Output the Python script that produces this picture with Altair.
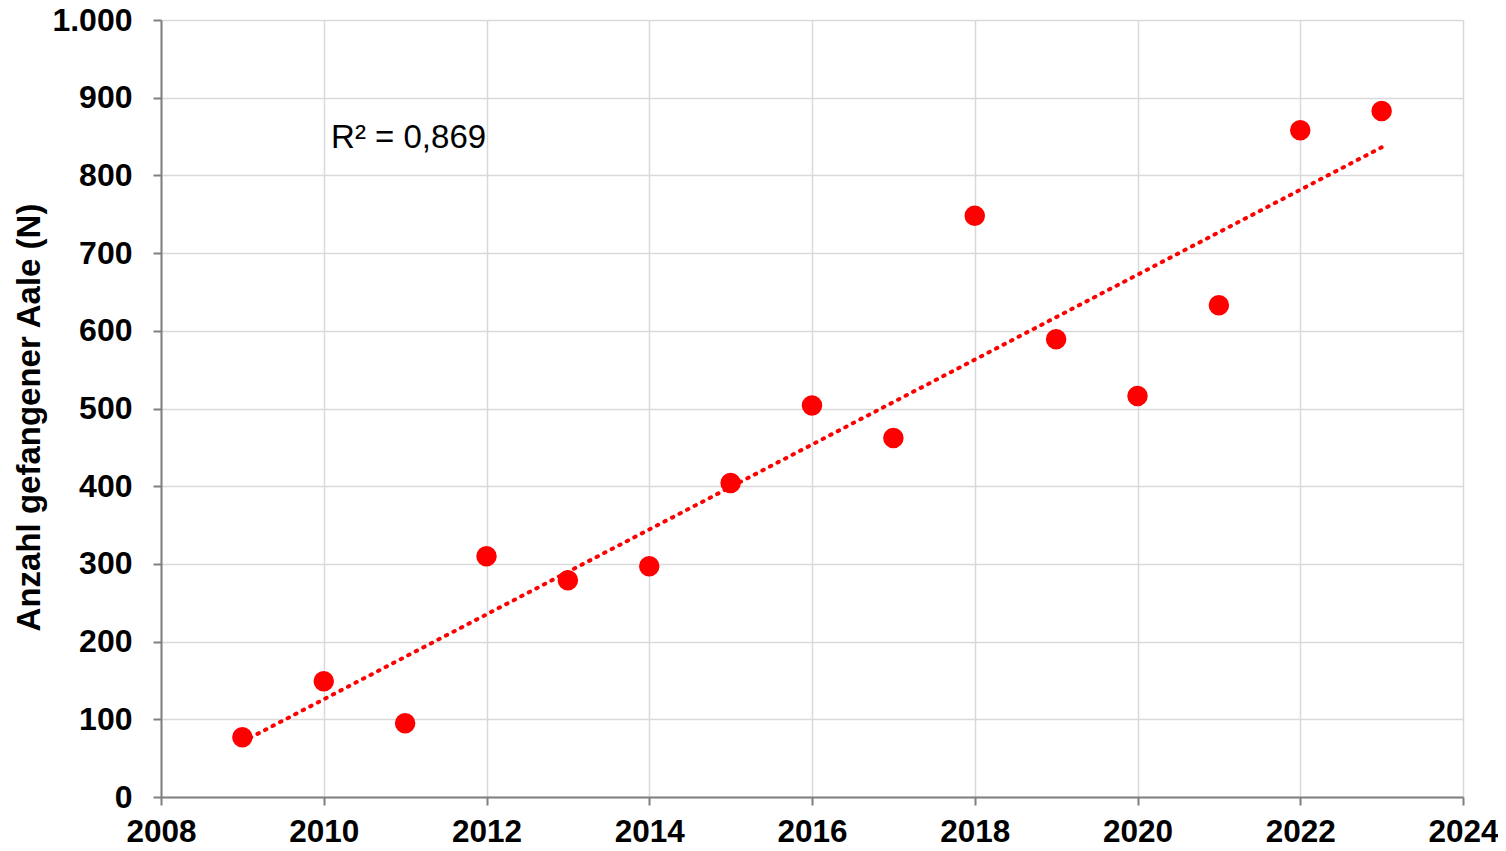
import altair as alt
import pandas as pd

years = [2009, 2010, 2011, 2012, 2013, 2014, 2015, 2016, 2017, 2018, 2019, 2020, 2021, 2022, 2023]
counts = [77, 149, 95, 310, 279, 297, 404, 504, 462, 748, 589, 516, 633, 858, 883]
x_ticks = [2008, 2010, 2012, 2014, 2016, 2018, 2020, 2022, 2024]
y_ticks = [0, 100, 200, 300, 400, 500, 600, 700, 800, 900, 1000]
annotation_text = ["R² = 0,869"]
annotation_year = [2010.09]
annotation_value = [835]

df = pd.DataFrame({"year": years, "n": counts})
ann = pd.DataFrame({"year": annotation_year, "n": annotation_value, "label": annotation_text})

FONT = "Liberation Sans"

x_enc = alt.X(
    "year:Q",
    scale=alt.Scale(domain=[2008, 2024], nice=False, zero=False),
    axis=alt.Axis(
        values=x_ticks, format="d", title=None,
        labelFont=FONT, labelFontSize=31.5, labelFontWeight="bold", labelColor="black",
        labelPadding=11, tickSize=8, tickColor="#7f7f7f", tickWidth=2,
        domainColor="#7f7f7f", domainWidth=2,
        gridColor="#d9d9d9", gridWidth=1.5, labelFlush=False, labelOverlap=False,
    ),
)
y_enc = alt.Y(
    "n:Q",
    scale=alt.Scale(domain=[0, 1000], nice=False),
    axis=alt.Axis(
        values=y_ticks,
        labelExpr="replace(format(datum.value, ','), ',', '.')",
        title="Anzahl gefangener Aale (N)",
        titleFont=FONT, titleFontSize=33, titleFontWeight="bold", titleColor="black",
        titlePadding=5, titleY=397,
        labelFont=FONT, labelFontSize=32, labelFontWeight="bold", labelColor="black",
        labelPadding=21, tickSize=8, tickColor="#7f7f7f", tickWidth=2,
        domainColor="#7f7f7f", domainWidth=2,
        gridColor="#d9d9d9", gridWidth=1.5, labelFlush=False, labelOverlap=False,
    ),
)

base = alt.Chart(df)

trend = base.transform_regression("year", "n").mark_line(
    color="#ff0000", strokeWidth=4, strokeDash=[1.5, 7], strokeCap="round"
).encode(x=x_enc, y=y_enc)

points = base.mark_circle(color="#ff0000", opacity=1, size=420).encode(x=x_enc, y=y_enc)

text = alt.Chart(ann).mark_text(
    align="left", baseline="alphabetic", font=FONT, fontSize=33, color="black"
).encode(x=alt.X("year:Q"), y=alt.Y("n:Q"), text="label:N")

chart = alt.layer(trend, points, text).properties(
    width=1302, height=777,
    autosize=alt.AutoSizeParams(type="none"),
    padding={"left": 153, "top": 12, "right": 35, "bottom": 46},
).configure_view(
    stroke="black", strokeWidth=2
).configure(background="white")

chart.save("out.html", embed_options={"renderer": "svg", "actions": False})
